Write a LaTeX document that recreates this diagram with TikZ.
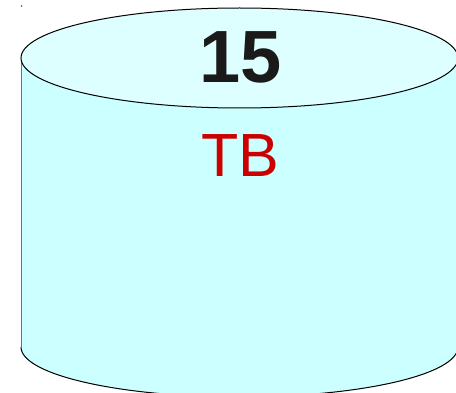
\documentclass[tikz,border=0pt]{standalone}
\usepackage{fontspec}
\setmainfont{Liberation Sans}
\definecolor{bodyfill}{HTML}{CCFFFF}
\definecolor{topfill}{HTML}{DDFFFF}
\definecolor{numcol}{HTML}{1A1A1A}
\definecolor{unitcol}{HTML}{CC0000}
\definecolor{edgegray}{HTML}{707070}
\begin{document}
\begin{tikzpicture}[x=1pt,y=-1pt,
  outline/.style={draw=black,line width=1pt},
  numtext/.style={font=\fontsize{74}{74}\selectfont\bfseries,text=numcol,inner sep=0pt},
  unittext/.style={font=\fontsize{61}{61}\selectfont,text=unitcol,inner sep=0pt}]
\useasboundingbox (0,0) rectangle (456,393);
\clip (0,0) rectangle (456,393);
% body
\fill[bodyfill] (21,58) -- (21,347) arc[start angle=180,end angle=360,x radius=218.5,y radius=-50] -- (458,58) -- cycle;
\draw[outline] (21,347) arc[start angle=180,end angle=360,x radius=218.5,y radius=-50];
\draw[edgegray,line width=1pt] (21,58) -- (21,347);
\draw[edgegray,line width=1pt] (458,58) -- (458,347);
% top
\draw[outline,fill=topfill] (239.5,58) ellipse[x radius=218.5,y radius=50];
% stray dot
\fill[black] (21.6,6) circle[radius=0.7];
% labels
\node[numtext,anchor=base] (num) at (241,83) {15};
\node[unittext,anchor=base] (unit) at (240,177) {TB};
\end{tikzpicture}
\end{document}
